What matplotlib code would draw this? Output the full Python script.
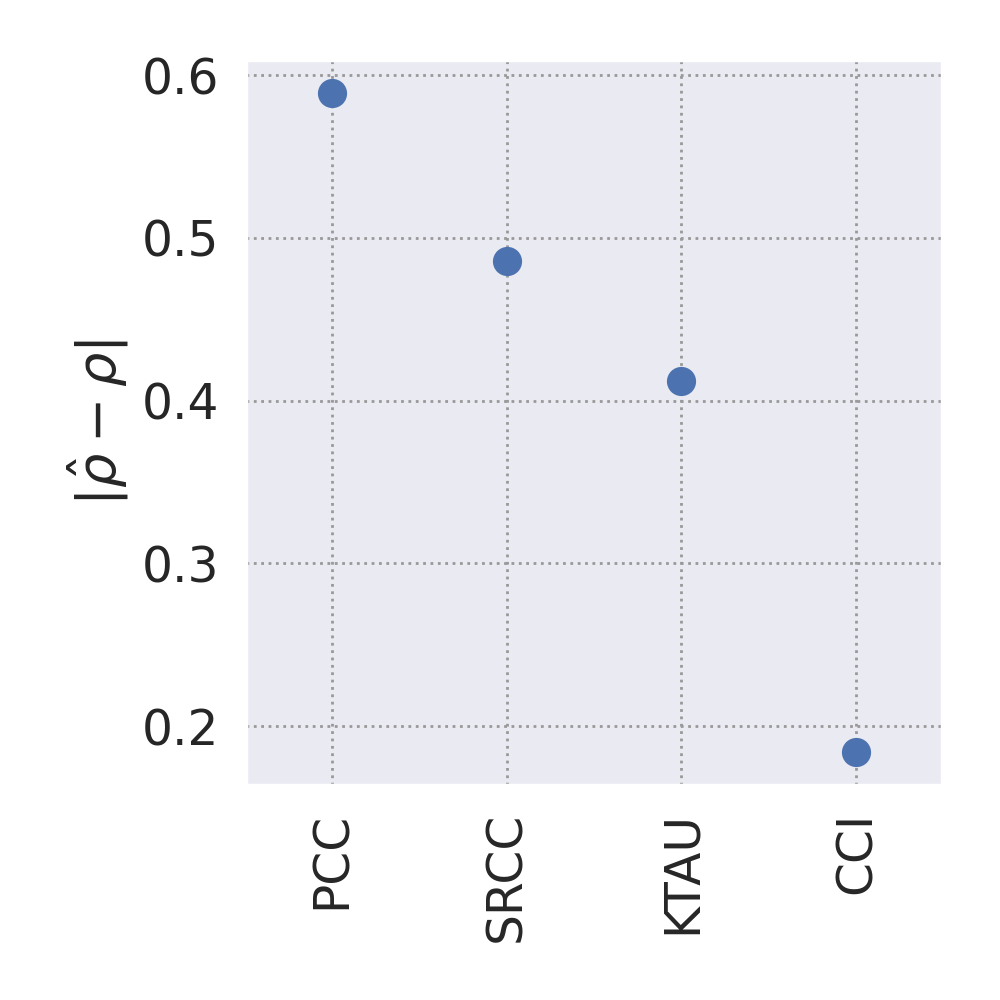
import numpy as np
import matplotlib
matplotlib.use("Agg")
import matplotlib.pyplot as plt
import seaborn as sns

# estimator names and the absolute error of each
methods = ["PCC", "SRCC", "KTAU", "CCI"]
abs_error = [0.589, 0.486, 0.412, 0.184]

sns.set_theme(style="darkgrid")
plt.rcParams["font.family"] = ["DejaVu Sans"]

fig, ax = plt.subplots(figsize=(5, 5), dpi=200)
fig.subplots_adjust(left=0.246, right=0.942, top=0.940, bottom=0.215)

x = np.arange(len(methods))
ax.plot(x, abs_error, "o", color="#4C72B0", markersize=9.5)

ax.set_xlim(-0.49, len(methods) - 0.51)
ax.set_xticks(x)
ax.set_xticklabels(methods, rotation=90, fontsize=17.5)
ax.set_yticks([0.2, 0.3, 0.4, 0.5, 0.6])
ax.tick_params(axis="y", labelsize=17.5)
ax.set_ylabel(r"$|\hat{\rho} - \rho|$", fontsize=19.5)
ax.grid(True, linestyle=":", color="#999999", linewidth=1.0)

fig.savefig("out.png")
